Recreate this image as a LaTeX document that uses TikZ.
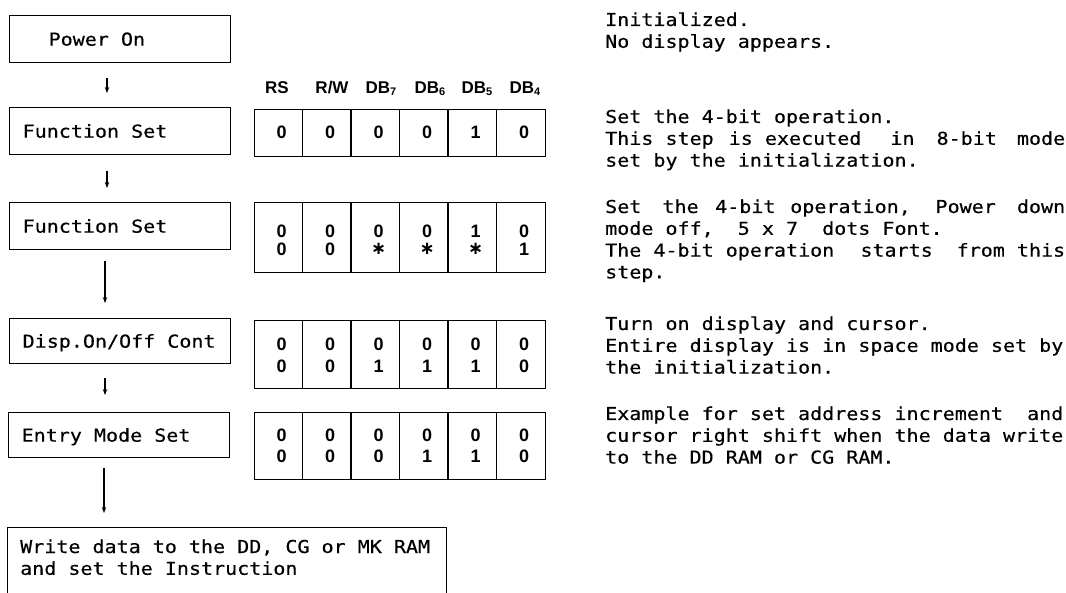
\documentclass[tikz,border=0pt]{standalone}
\usepackage{fontspec}
\usetikzlibrary{arrows.meta,calc}
\newfontfamily\monofont[FakeStretch=1.125,FakeBold=0.4]{DejaVu Sans Mono}
\newfontfamily\labfont{Liberation Sans}
\newfontfamily\symfont{DejaVu Sans}
\newcommand\mtxt{\monofont\fontsize{17.8pt}{21.8pt}\selectfont}
\newcommand\dtxt{\labfont\bfseries\fontsize{18pt}{18pt}\selectfont}
\newcommand\htxt{\labfont\bfseries\fontsize{17pt}{17pt}\selectfont}
\newcommand\G[1]{\hspace{0pt plus #1fil}}
\newcommand\JL[1]{\makebox[460pt][s]{#1}}
\newcommand\st{{\symfont\bfseries\char"2217}}
\newcommand\sbs[1]{\raisebox{-1.5pt}{\fontsize{11pt}{11pt}\selectfont #1}}
\begin{document}
\begin{tikzpicture}[x=1pt,y=-1pt,
 ln/.style={line width=1.3pt},
 lbox/.style={draw, ln, anchor=north west, minimum width=221pt, minimum height=47pt, text width=195pt, inner xsep=13pt, inner ysep=0pt, align=left, font=\mtxt, text height=13pt, text depth=0pt, execute at begin node={\spaceskip=0pt\xspaceskip=0pt\relax}},
 tbox/.style={draw, ln, anchor=north west, minimum width=291pt, inner sep=0pt},
 arr/.style={line width=1.1pt, -{Stealth[length=6pt,width=4.5pt]}},
 dig/.style={font=\dtxt, inner sep=0pt},
 hdr/.style={font=\htxt, inner sep=0pt, anchor=base},
 rtxt/.style={font=\mtxt, inner sep=0pt, anchor=base west}]
\useasboundingbox (0,0) rectangle (1066,593);
\clip (0,0) rectangle (1066,593);
% left boxes
\node[lbox] (pwr) at (9,15) {\hspace*{26pt}Power On};
\node[lbox] (fs1) at (9,107) {Function Set};
\node[lbox] (fs2) at (9,202) {Function Set};
\node[lbox, minimum height=45pt] (dsp) at (9,318) {Disp.On/Off Cont};
\node[lbox, minimum height=45pt] (ems) at (8,412) {Entry Mode Set};
\node[draw, ln, anchor=north west, minimum width=439pt, minimum height=90pt, inner sep=0pt] (wr) at (7,527) {};
\node[rtxt] (wrt) at (20,553) {\begin{tabular}[t]{@{}l@{}}Write data to the DD, CG or MK RAM\\and set the Instruction\end{tabular}};
% arrows
\coordinate (x1) at (107,0);
\coordinate (x2) at (105,0);
\coordinate (x3) at (104,0);
\draw[arr, shorten <=15pt, shorten >=14pt] (pwr.south -| x1) -- (fs1.north -| x1);
\draw[arr, shorten <=16pt, shorten >=14pt] (fs1.south -| x1) -- (fs2.north -| x1);
\draw[arr, shorten <=11pt, shorten >=15pt] (fs2.south -| x2) -- (dsp.north -| x2);
\draw[arr, shorten <=14pt, shorten >=17pt] (dsp.south -| x2) -- (ems.north -| x2);
\draw[arr, shorten <=10pt, shorten >=14pt] (ems.south -| x3) -- (wr.north -| x3);
% header
\node[hdr] (hrs) at (277,94) {RS};
\node[hdr] (hrw) at (332,94) {R/W};
\node[hdr] (h7) at (381,94) {DB\sbs{7}};
\node[hdr] (h6) at (430,94) {DB\sbs{6}};
\node[hdr] (h5) at (477,94) {DB\sbs{5}};
\node[hdr] (h4) at (525,94) {DB\sbs{4}};
% tables
\node[tbox, minimum height=47pt] (t1) at (254,109) {};
\node[tbox, minimum height=70pt] (t2) at (254,202) {};
\node[tbox, minimum height=68pt] (t3) at (254,320) {};
\node[tbox, minimum height=67pt] (t4) at (254,412) {};
\foreach \t in {t1,t2,t3,t4}{
  \foreach \k in {1,...,5}{
    \draw[ln] ($(\t.north west)+({48.5*\k},0)$) coordinate (\t n\k) -- (\t n\k |- \t.south);
  }
}
\foreach \v [count=\k] in {0,0,0,0,1,0} \node[dig] (t1a\k) at ({254+48.5*\k-20.75},132) {\v};
\foreach \v [count=\k] in {0,0,0,0,1,0} \node[dig] (t2a\k) at ({254+48.5*\k-20.75},231) {\v};
\foreach \v [count=\k] in {0,0,\st,\st,\st,1} \node[dig] (t2b\k) at ({254+48.5*\k-20.75},249) {\v};
\foreach \v [count=\k] in {0,0,0,0,0,0} \node[dig] (t3a\k) at ({254+48.5*\k-20.75},344) {\v};
\foreach \v [count=\k] in {0,0,1,1,1,0} \node[dig] (t3b\k) at ({254+48.5*\k-20.75},366) {\v};
\foreach \v [count=\k] in {0,0,0,0,0,0} \node[dig] (t4a\k) at ({254+48.5*\k-20.75},435.5) {\v};
\foreach \v [count=\k] in {0,0,0,1,1,0} \node[dig] (t4b\k) at ({254+48.5*\k-20.75},456) {\v};
% right texts
\node[rtxt] (r1) at (605,26) {\begin{tabular}[t]{@{}l@{}}Initialized.\\No display appears.\end{tabular}};
\node[rtxt] (r2) at (605,123) {\begin{tabular}[t]{@{}l@{}}Set the 4-bit operation.\\\JL{This step\G{0.3} is executed\G{1.7} in\G{1} 8-bit\G{0.8} mode}\\set by the initialization.\end{tabular}};
\node[rtxt] (r3) at (605,213) {\begin{tabular}[t]{@{}l@{}}\JL{Set\G{1} the\G{0.5} 4-bit\G{0.3} operation,\G{1.4} Power\G{1} down}\\mode off,~~5 x 7~~dots Font.\\\JL{The 4-bit operation\G{1.2} starts\G{1} from this}\\step.\end{tabular}};
\node[rtxt] (r4) at (605,330) {\begin{tabular}[t]{@{}l@{}}Turn on display and cursor.\\Entire display is in space mode set by\\the initialization.\end{tabular}};
\node[rtxt] (r5) at (605,420) {\begin{tabular}[t]{@{}l@{}}Example for set address increment~~and\\cursor right shift when the data write\\to the DD RAM or CG RAM.\end{tabular}};
\end{tikzpicture}
\end{document}
